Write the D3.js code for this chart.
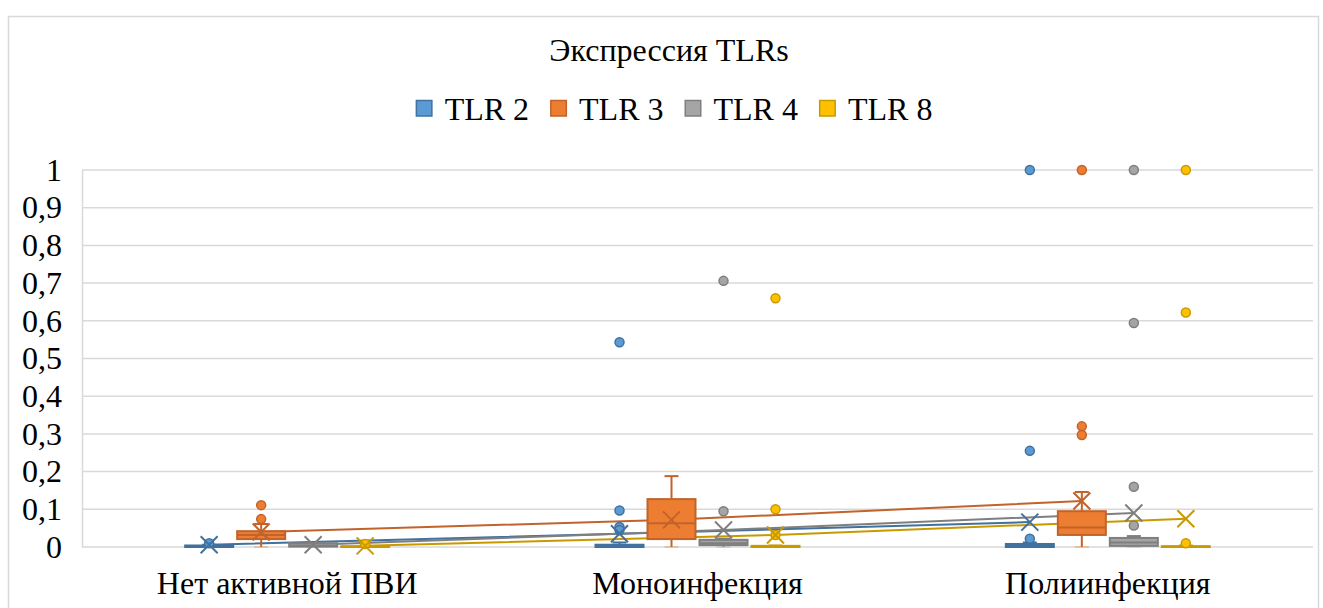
<!DOCTYPE html>
<html>
<head>
<meta charset="utf-8">
<script src="https://cdn.jsdelivr.net/npm/d3@7"></script>
<style>
  html, body { margin: 0; padding: 0; background: #fff; }
  svg { display: block; }
</style>
</head>
<body>
<svg id="chart" width="1323" height="608"></svg>
<script>
// Group labels and series names
const categories = ["Нет активной ПВИ", "Моноинфекция", "Полиинфекция"];
const seriesNames = ["TLR 2", "TLR 3", "TLR 4", "TLR 8"];
const yTicks = [0, 0.1, 0.2, 0.3, 0.4, 0.5, 0.6, 0.7, 0.8, 0.9, 1];

// Box statistics per series, one entry per category
const tlr2Low    = [0, 0, 0];
const tlr2Q1     = [0, 0, 0];
const tlr2Median = [0.001, 0.002, 0.003];
const tlr2Q3     = [0.004, 0.006, 0.008];
const tlr2High   = [0.006, 0.012, 0.012];
const tlr2Mean   = [0.006, 0.035, 0.066];
const tlr2Outliers = [[0.01], [0.543, 0.097, 0.053, 0.045], [1, 0.255, 0.022]];

const tlr3Low    = [0, 0, 0];
const tlr3Q1     = [0.021, 0.021, 0.032];
const tlr3Median = [0.032, 0.063, 0.052];
const tlr3Q3     = [0.042, 0.127, 0.095];
const tlr3High   = [0.061, 0.188, 0.146];
const tlr3Mean   = [0.04, 0.072, 0.122];
const tlr3Outliers = [[0.074, 0.111], [], [1, 0.32, 0.297]];

const tlr4Low    = [0, 0, 0];
const tlr4Q1     = [0.001, 0.005, 0.003];
const tlr4Median = [0.004, 0.01, 0.012];
const tlr4Q3     = [0.01, 0.019, 0.024];
const tlr4High   = [0.01, 0.022, 0.029];
const tlr4Mean   = [0.006, 0.045, 0.09];
const tlr4Outliers = [[], [0.706, 0.095], [1, 0.594, 0.16, 0.057]];

const tlr8Low    = [0, 0, 0];
const tlr8Q1     = [0, 0, 0];
const tlr8Median = [0.001, 0.001, 0.001];
const tlr8Q3     = [0.002, 0.003, 0.002];
const tlr8High   = [0.003, 0.004, 0.004];
const tlr8Mean   = [0.003, 0.032, 0.075];
const tlr8Outliers = [[0.008], [0.66, 0.1, 0.032], [1, 0.622, 0.01]];

const fills   = ["#5B9BD5", "#ED7D31", "#A5A5A5", "#FFC000"];
const strokes = ["#41719C", "#C1632A", "#7F7F7F", "#C99A00"];

const seriesStats = [
  { low: tlr2Low, q1: tlr2Q1, median: tlr2Median, q3: tlr2Q3, high: tlr2High, mean: tlr2Mean, outliers: tlr2Outliers },
  { low: tlr3Low, q1: tlr3Q1, median: tlr3Median, q3: tlr3Q3, high: tlr3High, mean: tlr3Mean, outliers: tlr3Outliers },
  { low: tlr4Low, q1: tlr4Q1, median: tlr4Median, q3: tlr4Q3, high: tlr4High, mean: tlr4Mean, outliers: tlr4Outliers },
  { low: tlr8Low, q1: tlr8Q1, median: tlr8Median, q3: tlr8Q3, high: tlr8High, mean: tlr8Mean, outliers: tlr8Outliers }
].map((s, i) => ({ ...s, name: seriesNames[i], fill: fills[i], stroke: strokes[i] }));

const fontFamily = '"Liberation Serif", "Times New Roman", serif';
const fontSize = 32;

const svg = d3.select("#chart").attr("font-family", fontFamily);

// Outer chart frame
svg.append("rect")
  .attr("x", 8.5).attr("y", 16.5).attr("width", 1310).attr("height", 610)
  .attr("fill", "#fff").attr("stroke", "#d9d9d9").attr("stroke-width", 1.5);

const plot = { left: 82, right: 1313, top: 170, bottom: 547 };

const x0 = d3.scaleBand().domain(categories).range([plot.left, plot.right]);
const x1 = d3.scaleBand().domain(seriesNames).range([-104, 104]);
const y = d3.scaleLinear().domain([0, 1]).range([plot.bottom, plot.top]);

const boxW = 48;
const cx = (ci, si) => x0(categories[ci]) + x0.bandwidth() / 2 + x1(seriesNames[si]) + x1.bandwidth() / 2;

// Gridlines
svg.append("g")
  .selectAll("line")
  .data(yTicks)
  .join("line")
  .attr("x1", plot.left).attr("x2", plot.right)
  .attr("y1", d => y(d)).attr("y2", d => y(d))
  .attr("stroke", "#d9d9d9").attr("stroke-width", 1.5);

// Y axis
const yAxis = svg.append("g")
  .attr("transform", `translate(${plot.left},0)`)
  .call(d3.axisLeft(y).tickValues(yTicks).tickSize(0).tickPadding(20)
    .tickFormat(d => String(d).replace(".", ",")));
yAxis.attr("font-family", fontFamily).attr("font-size", fontSize);
yAxis.select(".domain").attr("stroke", "#d9d9d9").attr("stroke-width", 1.5);
yAxis.selectAll("text").attr("fill", "#000");

// X axis labels
const xAxis = svg.append("g")
  .attr("transform", `translate(0,${plot.bottom})`)
  .call(d3.axisBottom(x0).tickSize(0).tickPadding(24));
xAxis.attr("font-family", fontFamily).attr("font-size", fontSize);
xAxis.select(".domain").remove();
xAxis.selectAll("text").attr("fill", "#000");

// Mean lines connecting categories
const meanLine = d3.line().x(d => d.x).y(d => y(d.v));
seriesStats.forEach((s, si) => {
  const pts = s.mean.map((v, ci) => ({ x: cx(ci, si), v }));
  svg.append("path")
    .attr("d", meanLine(pts))
    .attr("fill", "none").attr("stroke", s.stroke).attr("stroke-width", 2);
});

// Boxes and whiskers
seriesStats.forEach((s, si) => {
  const g = svg.append("g");
  categories.forEach((c, ci) => {
    const xc = cx(ci, si);
    const capW = 14;
    g.append("line")
      .attr("x1", xc).attr("x2", xc)
      .attr("y1", y(s.q1[ci])).attr("y2", y(s.low[ci]))
      .attr("stroke", s.stroke).attr("stroke-width", 2);
    g.append("line")
      .attr("x1", xc - capW / 2).attr("x2", xc + capW / 2)
      .attr("y1", y(s.low[ci])).attr("y2", y(s.low[ci]))
      .attr("stroke", s.fill).attr("stroke-opacity", 0.35).attr("stroke-width", 2);
    g.append("line")
      .attr("x1", xc).attr("x2", xc)
      .attr("y1", y(s.q3[ci])).attr("y2", y(s.high[ci]))
      .attr("stroke", s.stroke).attr("stroke-width", 2);
    g.append("line")
      .attr("x1", xc - capW / 2).attr("x2", xc + capW / 2)
      .attr("y1", y(s.high[ci])).attr("y2", y(s.high[ci]))
      .attr("stroke", s.stroke).attr("stroke-width", 2);
    const top = y(s.q3[ci]), bot = y(s.q1[ci]);
    g.append("rect")
      .attr("x", xc - boxW / 2).attr("width", boxW)
      .attr("y", top).attr("height", Math.max(bot - top, 0.5))
      .attr("fill", s.fill).attr("stroke", s.stroke).attr("stroke-width", 2);
    g.append("line")
      .attr("x1", xc - boxW / 2).attr("x2", xc + boxW / 2)
      .attr("y1", y(s.median[ci])).attr("y2", y(s.median[ci]))
      .attr("stroke", s.stroke).attr("stroke-width", 2);
  });
});

// Outliers and mean markers
seriesStats.forEach((s, si) => {
  const g = svg.append("g");
  categories.forEach((c, ci) => {
    const xc = cx(ci, si);
    g.selectAll(null)
      .data(s.outliers[ci])
      .join("circle")
      .attr("cx", xc).attr("cy", d => y(d)).attr("r", 4.5)
      .attr("fill", s.fill).attr("stroke", s.stroke).attr("stroke-width", 1.5);
    const my = y(s.mean[ci]), m = 8.5;
    g.append("path")
      .attr("d", `M${xc - m},${my - m}L${xc + m},${my + m}M${xc - m},${my + m}L${xc + m},${my - m}`)
      .attr("stroke", s.stroke).attr("stroke-width", 2).attr("fill", "none");
  });
});

// Title
svg.append("text")
  .attr("x", 669).attr("y", 61)
  .attr("text-anchor", "middle")
  .attr("font-size", fontSize).attr("fill", "#000")
  .text("Экспрессия TLRs");

// Legend, centred under the title
const legend = svg.append("g");
const sq = 17, gapText = 12, gapItem = 21;
let lx = 0;
seriesStats.forEach(s => {
  const item = legend.append("g").attr("transform", `translate(${lx},0)`);
  item.append("rect")
    .attr("x", 0.75).attr("y", -sq / 2).attr("width", sq - 1.5).attr("height", sq - 1.5)
    .attr("fill", s.fill).attr("stroke", s.stroke).attr("stroke-width", 1.5);
  const t = item.append("text")
    .attr("x", sq + gapText).attr("y", 11)
    .attr("font-size", fontSize).attr("fill", "#000")
    .text(s.name);
  lx += sq + gapText + t.node().getComputedTextLength() + gapItem;
});
const legendW = lx - gapItem;
legend.attr("transform", `translate(${674 - legendW / 2},109)`);
</script>
</body>
</html>
